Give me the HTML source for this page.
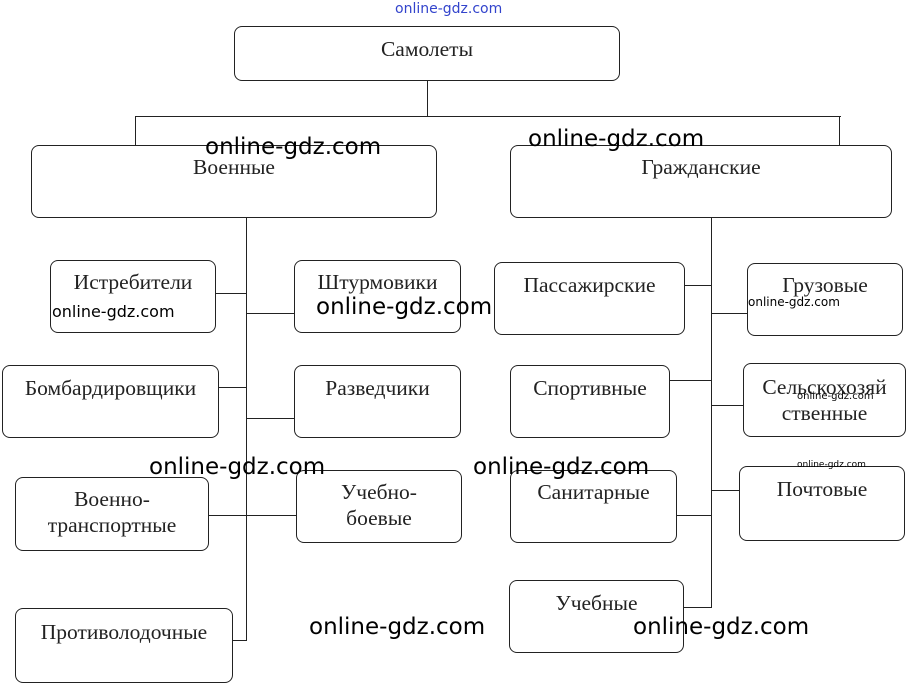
<!DOCTYPE html>
<html><head><meta charset="utf-8"><style>
body{margin:0;width:910px;height:683px;background:#fff;position:relative;overflow:hidden;font-family:"Liberation Serif",serif;}
.b{position:absolute;border:1.3px solid #222;border-radius:8px;box-sizing:border-box;text-align:center;font-size:21.5px;color:#222;line-height:26px;white-space:nowrap;}
.l{position:absolute;background:#222;}
.w{position:absolute;font-family:"DejaVu Sans",sans-serif;font-size:23px;color:#000;white-space:nowrap;}
</style></head><body>
<div class="w" style="left:395px;top:1px;font-size:14px;color:#3344cc">online-gdz.com</div>

<div class="b" style="left:234px;top:26px;width:386px;height:55px;padding-top:9px">Самолеты</div>
<div class="l" style="left:427px;top:80px;width:1.3px;height:37px"></div>
<div class="l" style="left:135px;top:116px;width:706px;height:1.3px"></div>
<div class="l" style="left:135px;top:116px;width:1.3px;height:29px"></div>
<div class="l" style="left:839px;top:116px;width:1.3px;height:29px"></div>

<div class="b" style="left:31px;top:145px;width:406px;height:73px;padding-top:8px">Военные</div>
<div class="b" style="left:510px;top:145px;width:382px;height:73px;padding-top:8px">Гражданские</div>

<div class="l" style="left:246px;top:217px;width:1.3px;height:424px"></div>
<div class="l" style="left:711px;top:217px;width:1.3px;height:391px"></div>

<div class="b" style="left:50px;top:260px;width:166px;height:73px;padding-top:8px">Истребители</div>
<div class="l" style="left:216px;top:293px;width:31px;height:1.3px"></div>
<div class="b" style="left:294px;top:260px;width:167px;height:73px;padding-top:8px">Штурмовики</div>
<div class="l" style="left:247px;top:313px;width:47px;height:1.3px"></div>
<div class="b" style="left:2px;top:365px;width:217px;height:73px;padding-top:9px">Бомбардировщики</div>
<div class="l" style="left:218px;top:387px;width:29px;height:1.3px"></div>
<div class="b" style="left:294px;top:365px;width:167px;height:73px;padding-top:9px">Разведчики</div>
<div class="l" style="left:247px;top:418px;width:47px;height:1.3px"></div>
<div class="b" style="left:15px;top:477px;width:194px;height:74px;padding-top:8px">Военно-<br>транспортные</div>
<div class="l" style="left:208px;top:515px;width:39px;height:1.3px"></div>
<div class="b" style="left:296px;top:470px;width:166px;height:73px;padding-top:8px">Учебно-<br>боевые</div>
<div class="l" style="left:247px;top:515px;width:49px;height:1.3px"></div>
<div class="b" style="left:15px;top:608px;width:218px;height:75px;padding-top:10px">Противолодочные</div>
<div class="l" style="left:232px;top:640px;width:15px;height:1.3px"></div>

<div class="b" style="left:494px;top:262px;width:191px;height:73px;padding-top:9px">Пассажирские</div>
<div class="l" style="left:684px;top:285px;width:28px;height:1.3px"></div>
<div class="b" style="left:747px;top:263px;width:156px;height:73px;padding-top:8px">Грузовые</div>
<div class="l" style="left:712px;top:313px;width:35px;height:1.3px"></div>
<div class="b" style="left:510px;top:365px;width:160px;height:73px;padding-top:9px">Спортивные</div>
<div class="l" style="left:669px;top:380px;width:43px;height:1.3px"></div>
<div class="b" style="left:743px;top:363px;width:163px;height:74px;padding-top:10px">Сельскохозяй<br>ственные</div>
<div class="l" style="left:712px;top:405px;width:31px;height:1.3px"></div>
<div class="b" style="left:510px;top:470px;width:167px;height:73px;padding-top:8px">Санитарные</div>
<div class="l" style="left:676px;top:515px;width:36px;height:1.3px"></div>
<div class="b" style="left:739px;top:466px;width:166px;height:75px;padding-top:9px">Почтовые</div>
<div class="l" style="left:712px;top:490px;width:27px;height:1.3px"></div>
<div class="b" style="left:509px;top:580px;width:175px;height:73px;padding-top:9px">Учебные</div>
<div class="l" style="left:683px;top:607px;width:29px;height:1.3px"></div>

<div class="w" style="left:205px;top:134px">online-gdz.com</div>
<div class="w" style="left:528px;top:126px">online-gdz.com</div>
<div class="w" style="left:52px;top:302px;font-size:16px">online-gdz.com</div>
<div class="w" style="left:316px;top:294px">online-gdz.com</div>
<div class="w" style="left:748px;top:295px;font-size:12px">online-gdz.com</div>
<div class="w" style="left:797px;top:391px;font-size:10px">online-gdz.com</div>
<div class="w" style="left:797px;top:460px;font-size:9px">online-gdz.com</div>
<div class="w" style="left:149px;top:454px">online-gdz.com</div>
<div class="w" style="left:473px;top:454px">online-gdz.com</div>
<div class="w" style="left:309px;top:614px">online-gdz.com</div>
<div class="w" style="left:633px;top:614px">online-gdz.com</div>
</body></html>
